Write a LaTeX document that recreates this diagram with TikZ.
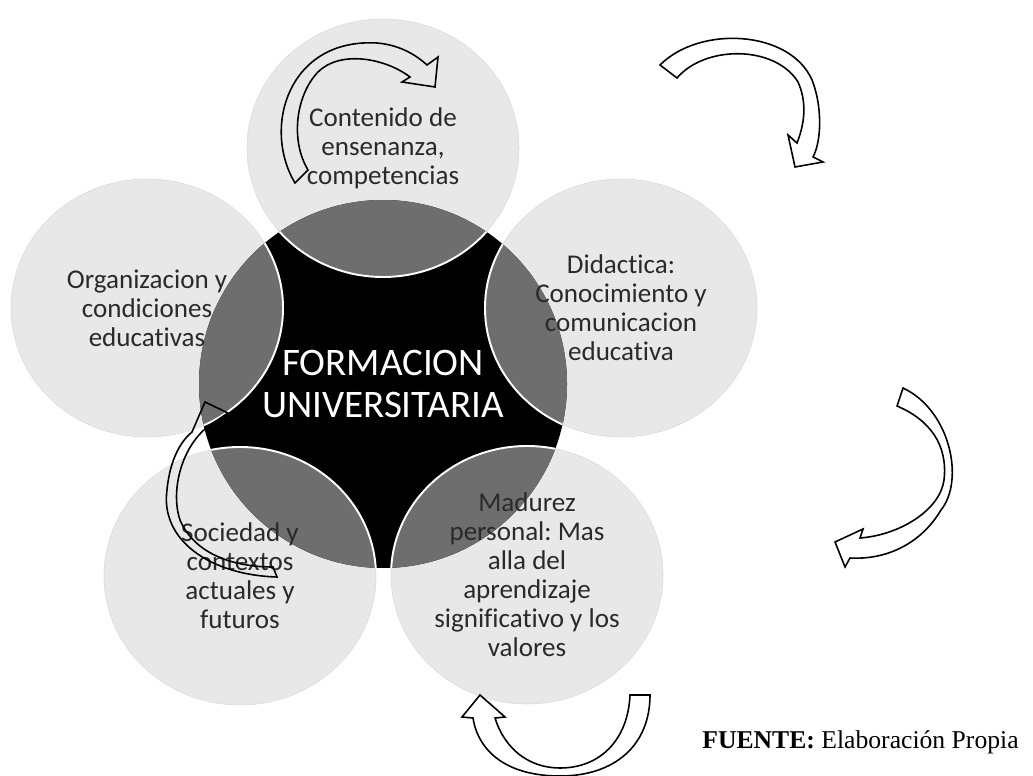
\documentclass[tikz,border=0pt]{standalone}
\usepackage{fontspec}
\setmainfont{Liberation Serif}
\newfontfamily\calib[Ligatures=NoCommon]{Carlito}
\usepackage{tikz}
\frenchspacing

\definecolor{petalgray}{HTML}{E8E8E8}
\definecolor{overlapgray}{HTML}{6E6E6E}
\definecolor{labelgray}{HTML}{2A2A2A}

\tikzset{
  petal/.style={fill=petalgray, draw=gray!30, line width=0.3pt},
  petalsize/.style={x radius=136, y radius=129},
  overlap/.style={fill=overlapgray, draw=white, line width=1.1pt},
  petaltext/.style={align=center, inner sep=0pt, text=labelgray, font=\calib\fontsize{15.4}{16.5}\selectfont},
  hollow/.style={draw=black, line width=0.9pt, line join=miter}
}

\begin{document}
\begin{tikzpicture}[x=0.02cm, y=-0.02cm]
\useasboundingbox (0,0) rectangle (1033,776);

\coordinate (centre) at (383,384);
\coordinate (top) at (383,148);
\coordinate (right) at (621,308);
\coordinate (left) at (147,308);
\coordinate (lowleft) at (240,576);
\coordinate (lowright) at (527,575);

% outer circles
\filldraw[petal] (top) ellipse [petalsize];
\filldraw[petal] (right) ellipse [petalsize];
\filldraw[petal] (left) ellipse [petalsize];
\filldraw[petal] (lowleft) ellipse [petalsize];
\filldraw[petal] (lowright) ellipse [petalsize];

% centre and overlaps
\fill[black] (centre) circle [radius=184];
\begin{scope}
  \clip (centre) circle [radius=184];
  \filldraw[overlap] (top) ellipse [petalsize];
  \filldraw[overlap] (right) ellipse [petalsize];
  \filldraw[overlap] (left) ellipse [petalsize];
  \filldraw[overlap] (lowleft) ellipse [petalsize];
  \filldraw[overlap] (lowright) ellipse [petalsize];
\end{scope}

\node[align=center, inner sep=0pt, text=white, font=\calib\fontsize{22.2}{23.9}\selectfont] (core) at (centre) {FORMACION\\UNIVERSITARIA};

\node[petaltext] (toptext) at (top) {Contenido de\\ensenanza,\\competencias};
\node[petaltext] (righttext) at (right) {Didactica:\\Conocimiento y\\comunicacion\\educativa};
\node[petaltext] (lefttext) at (left) {Organizacion y\\condiciones\\educativas};
\node[petaltext] (lowlefttext) at (lowleft) {Sociedad y\\contextos\\actuales y\\futuros};
\node[petaltext] (lowrighttext) at (lowright) {Madurez\\personal: Mas\\alla del\\aprendizaje\\significativo y los\\valores};

% curved arrows
\draw[hollow] (295,183) .. controls (262,128) and (288,38) .. (377,43) .. controls (400,45) and (416,55) .. (427,65) -- (438,57) -- (435,87) -- (402,82) -- (410,77) .. controls (385,58) and (340,50) .. (318,72) .. controls (296,95) and (290,140) .. (308,170) -- cycle;
\draw[hollow] (660,65) .. controls (700,25) and (790,30) .. (812,80) .. controls (822,105) and (822,140) .. (813,157) -- (823,162) -- (795,167) -- (788,135) -- (797,143) .. controls (806,120) and (806,100) .. (798,82) .. controls (775,45) and (705,45) .. (677,78) -- cycle;
\draw[hollow] (903,388) .. controls (950,410) and (965,480) .. (941,510) .. controls (920,545) and (885,560) .. (850,558) -- (845,567) -- (835,542) -- (863,529) -- (860,538) .. controls (900,535) and (940,510) .. (944,480) .. controls (948,445) and (930,420) .. (897,406) -- cycle;
\draw[hollow] (650,695) .. controls (650,745) and (615,776) .. (560,776) .. controls (505,776) and (478,750) .. (473,718) -- (462,717) -- (480,695) -- (505,717) -- (495,718) .. controls (505,750) and (530,768) .. (560,768) .. controls (600,768) and (628,740) .. (630,695) -- cycle;
\draw[hollow] (277,577) .. controls (210,575) and (160,540) .. (167,490) .. controls (170,458) and (182,440) .. (192,432) -- (205,402) -- (228,413) -- (210,425) .. controls (182,445) and (170,490) .. (180,520) .. controls (195,555) and (235,567) .. (273,567) -- cycle;

\node[anchor=base west, inner sep=0pt, font=\fontsize{14.6}{17}\selectfont] (source) at (702,748) {\textbf{FUENTE:} Elaboración Propia};
\end{tikzpicture}
\end{document}
